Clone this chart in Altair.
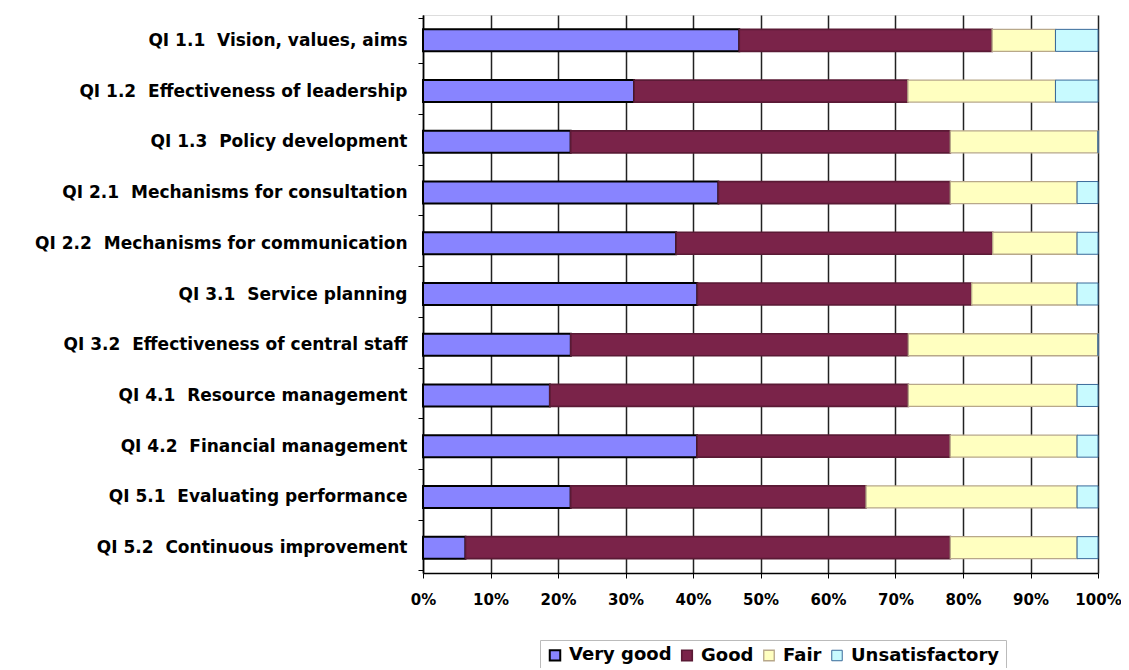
import altair as alt
import pandas as pd

categories = [
    "QI 1.1 \u00a0Vision, values, aims",
    "QI 1.2 \u00a0Effectiveness of leadership",
    "QI 1.3 \u00a0Policy development",
    "QI 2.1 \u00a0Mechanisms for consultation",
    "QI 2.2 \u00a0Mechanisms for communication",
    "QI 3.1 \u00a0Service planning",
    "QI 3.2 \u00a0Effectiveness of central staff",
    "QI 4.1 \u00a0Resource management",
    "QI 4.2 \u00a0Financial management",
    "QI 5.1 \u00a0Evaluating performance",
    "QI 5.2 \u00a0Continuous improvement",
]
very_good = [46.9, 31.3, 21.9, 43.8, 37.5, 40.6, 21.9, 18.8, 40.6, 21.9, 6.3]
good = [37.5, 40.6, 56.3, 34.4, 46.9, 40.6, 50.0, 53.1, 37.5, 43.8, 71.9]
fair = [9.4, 21.9, 21.9, 18.8, 12.5, 15.6, 28.1, 25.0, 18.8, 31.3, 18.8]
unsatisfactory = [6.3, 6.3, 0.0, 3.1, 3.1, 3.1, 0.0, 3.1, 3.1, 3.1, 3.1]

ratings = ["Very good", "Good", "Fair", "Unsatisfactory"]
fills = ["#8884FF", "#7A2349", "#FFFFC0", "#C8FAFF"]
strokes = ["#000000", "#5A1A35", "#B8A88A", "#3A6A9A"]
stroke_widths = [2.0, 1.0, 1.0, 1.0]

rows = []
for i, c in enumerate(categories):
    for k, (r, vals) in enumerate(zip(ratings, [very_good, good, fair, unsatisfactory])):
        rows.append({"QI": c, "Rating": r, "Value": vals[i], "order": k})
df = pd.DataFrame(rows)

font = "DejaVu Sans"

chart = alt.Chart(df).mark_bar(size=22).encode(
    y=alt.Y("QI:N", sort=categories, title=None,
            axis=alt.Axis(labelFont=font, labelFontWeight="bold", labelFontSize=17,
                          labelColor="#000", labelLimit=0, labelPadding=11,
                          tickSize=5, tickBand="extent", tickColor="#000",
                          domainColor="#000", domainWidth=1.5, grid=False)),
    x=alt.X("Value:Q", stack="normalize", title=None,
            scale=alt.Scale(domain=[0, 1], nice=False),
            axis=alt.Axis(format=".0%", values=[i / 10 for i in range(11)],
                          labelOverlap=False, labelFlush=False,
                          labelFont=font, labelFontWeight="bold", labelFontSize=15,
                          labelColor="#000", labelPadding=14, tickSize=5,
                          tickColor="#000", domainColor="#000", domainWidth=1.5,
                          grid=True, gridColor="#222", gridWidth=1.5)),
    fill=alt.Fill("Rating:N", sort=ratings,
                  scale=alt.Scale(domain=ratings, range=fills),
                  legend=alt.Legend(title=None, orient="none", direction="horizontal",
                                    legendX=117, legendY=625,
                                    labelFont=font, labelFontWeight="bold",
                                    labelFontSize=18, labelColor="#000",
                                    symbolType="square", symbolSize=110,
                                    symbolStrokeColor="#222", symbolStrokeWidth=1.5,
                                    columnPadding=6, labelOffset=5,
                                    strokeColor="#BBBBBB", padding=6)),
    stroke=alt.Stroke("Rating:N", scale=alt.Scale(domain=ratings, range=strokes), legend=None),
    strokeWidth=alt.StrokeWidth("Rating:N", scale=alt.Scale(domain=ratings, range=stroke_widths), legend=None),
    order=alt.Order("order:Q"),
).properties(
    width=675, height=558,
    autosize=alt.AutoSizeParams(type="none"),
    padding={"left": 415, "top": 7, "right": 23, "bottom": 95},
).configure_view(
    stroke="#999999", strokeWidth=1.5
).configure(background="white")

chart.save("out.html", embed_options={"renderer": "svg", "actions": False})
